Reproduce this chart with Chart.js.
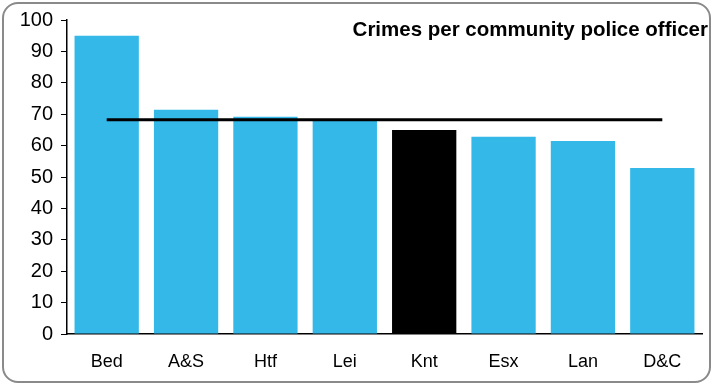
<!DOCTYPE html>
<html>
<head>
<meta charset="utf-8">
<script src="https://cdn.jsdelivr.net/npm/chart.js@4/dist/chart.umd.min.js"></script>
<style>
  html, body { margin: 0; padding: 0; background: #fff; }
  #wrap { position: relative; width: 713px; height: 385px; }
  #frame {
    position: absolute; left: 2px; top: 2px; width: 705px; height: 377px;
    border: 2px solid #8a8a8a; border-radius: 16px; pointer-events: none;
  }
  canvas { position: absolute; left: 0; top: 0; }
</style>
</head>
<body>
<div id="wrap">
  <canvas id="chart" width="713" height="385"></canvas>
  <div id="frame"></div>
</div>
<script>
const forces   = ['Bed', 'A&S', 'Htf', 'Lei', 'Knt', 'Esx', 'Lan', 'D&C'];
const crimes   = [95, 71.4, 69.2, 68.3, 65, 62.8, 61.5, 52.9];
const average  = [68.2, 68.2, 68.2, 68.2, 68.2, 68.2, 68.2, 68.2];
const yTicks   = [0, 10, 20, 30, 40, 50, 60, 70, 80, 90, 100];
const chartTitle = 'Crimes per community police officer';

const BLUE = '#33b8e8';
const barColors = forces.map(f => f === 'Knt' ? '#000000' : BLUE);

const titlePlugin = {
  id: 'cornerTitle',
  afterDraw(chart) {
    const ctx = chart.ctx;
    ctx.save();
    ctx.font = 'bold 20.5px "Liberation Sans", Arial, sans-serif';
    ctx.fillStyle = '#000';
    ctx.textAlign = 'right';
    ctx.textBaseline = 'alphabetic';
    ctx.fillText(chartTitle, 708, 36);
    ctx.restore();
  }
};

new Chart(document.getElementById('chart'), {
  type: 'bar',
  data: {
    labels: forces,
    datasets: [
      {
        type: 'line',
        label: 'Average',
        data: average,
        borderColor: '#000',
        borderWidth: 3,
        pointRadius: 0,
        fill: false,
        order: 0,
      },
      {
        label: 'Crimes',
        data: crimes,
        backgroundColor: barColors,
        barPercentage: 0.81,
        categoryPercentage: 1,
        order: 1,
      },
    ],
  },
  options: {
    responsive: false,
    animation: false,
    layout: { padding: { top: 10, right: 11, bottom: 0, left: 0 } },
    plugins: {
      legend: { display: false },
      tooltip: { enabled: false },
    },
    scales: {
      x: {
        grid: { display: false, drawTicks: false },
        border: { color: '#000', width: 1.5 },
        ticks: {
          color: '#000', padding: 17,
          font: { family: '"Liberation Sans", Arial, sans-serif', size: 18 },
        },
        afterFit: s => { s.height = 51; },
      },
      y: {
        min: 0, max: 100,
        afterBuildTicks: s => { s.ticks = yTicks.map(v => ({ value: v })); },
        grid: { drawOnChartArea: false, tickLength: 6, color: '#000', tickWidth: 1 },
        border: { color: '#000', width: 1.5 },
        ticks: {
          color: '#000', padding: 8,
          font: { family: '"Liberation Sans", Arial, sans-serif', size: 20 },
        },
        afterFit: s => { s.width = 67; },
      },
    },
  },
  plugins: [titlePlugin],
});
</script>
</body>
</html>
